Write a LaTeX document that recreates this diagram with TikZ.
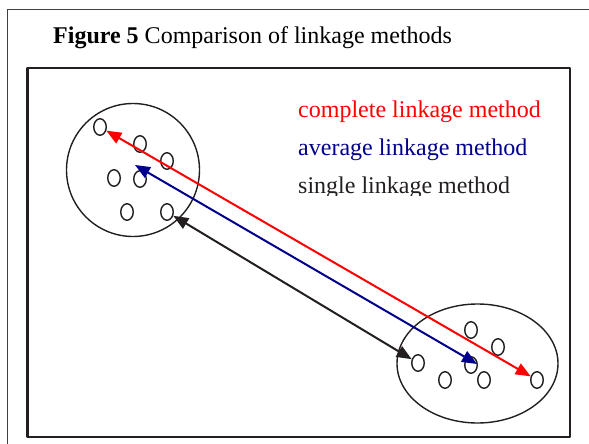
\documentclass[tikz,border=0pt]{standalone}
\usepackage{fontspec}
\setmainfont{Liberation Serif}
\usepackage{xcolor}
\usetikzlibrary{arrows.meta,shapes.geometric}
\definecolor{linkred}{RGB}{255,0,0}
\definecolor{linkblue}{RGB}{0,0,140}
\definecolor{linkblack}{RGB}{35,31,32}

\begin{document}
\begin{tikzpicture}[x=1pt,y=-1pt,line cap=round,line join=round,
    pt/.style={ellipse,draw=linkblack,line width=1.4pt,minimum width=12.5pt,minimum height=16.5pt,inner sep=0pt},
    link/.style={line width=2pt,{Triangle[length=15pt,width=12pt]}-{Triangle[length=15pt,width=12pt]}},
    lbl/.style={anchor=base west,font=\fontsize{24}{26}\selectfont,inner sep=0pt}]
  \useasboundingbox (0,0) rectangle (589,444);
  % frames
  \draw[line width=1.8pt,black!75] (7.5,444) -- (7.5,9.5) -- (589,9.5);
  \draw[line width=2.2pt,linkblack] (27.5,68) rectangle (570,437);
  \node[lbl] (title) at (53,44) {\textbf{Figure 5} Comparison of linkage methods};
  % clusters
  \node[circle,draw=linkblack,line width=1.4pt,minimum size=133pt,inner sep=0pt] (clA) at (133,170) {};
  \node[ellipse,draw=linkblack,line width=1.4pt,minimum width=161pt,minimum height=119pt,inner sep=0pt] (clB) at (477.5,363.5) {};
  \node[pt] (p1) at (100,127) {};
  \node[pt] (p2) at (140,144) {};
  \node[pt] (p3) at (167,161) {};
  \node[pt] (p4) at (114,178) {};
  \node[pt] (p5) at (140,179) {};
  \node[pt] (p6) at (127,212) {};
  \node[pt] (p7) at (167,212) {};
  \node[pt] (q1) at (471,330) {};
  \node[pt] (q2) at (498,347) {};
  \node[pt] (q3) at (418,363) {};
  \node[pt] (q4) at (471,365) {};
  \node[pt] (q5) at (445,380) {};
  \node[pt] (q6) at (484,380) {};
  \node[pt] (q7) at (537,380) {};
  % linkages
  \coordinate (avgA) at (135,165);
  \coordinate (avgB) at (477,364);
  \draw[link,linkred] (p1) -- (q7);
  \draw[link,linkblue] (avgA) -- (avgB);
  \draw[link,linkblack] (p7) -- (q3);
  % legend
  \begin{scope}
    \clip (280,90) rectangle (560,195);
    \node[lbl,text=linkred] (lgC) at (298,117) {complete linkage method};
    \node[lbl,text=linkblue] (lgA) at (298,155) {average linkage method};
    \node[lbl,text=linkblack] (lgS) at (298,193) {single linkage method};
  \end{scope}
\end{tikzpicture}
\end{document}
